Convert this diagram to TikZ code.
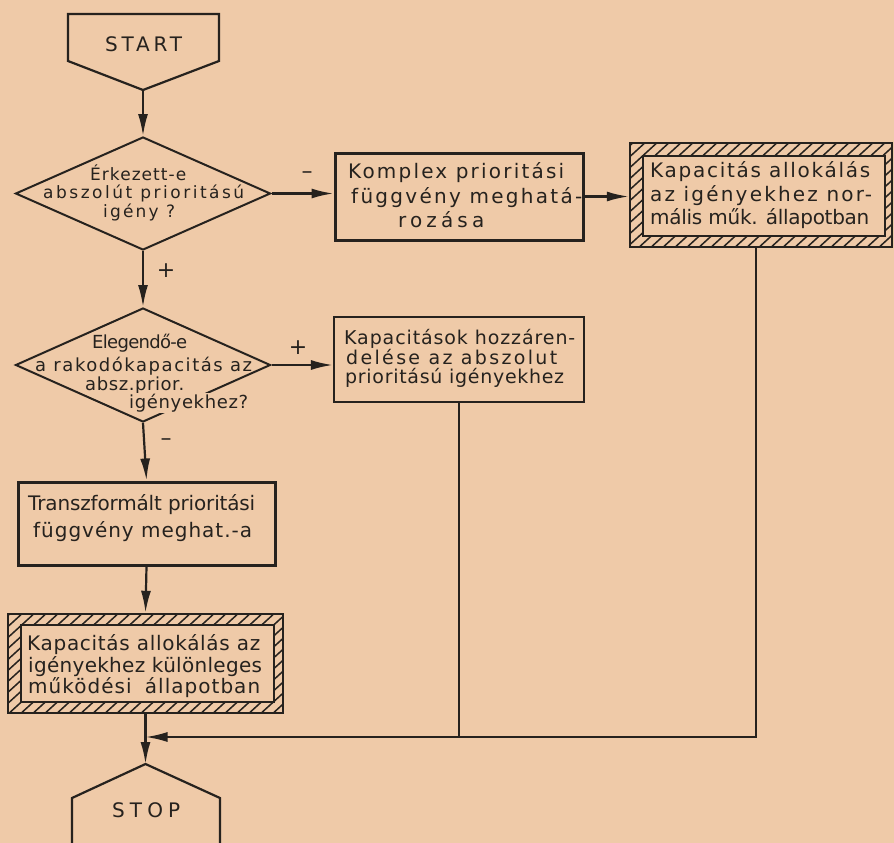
\documentclass[tikz,border=0pt]{standalone}
\usepackage{fontspec}
\setmainfont{DejaVu Sans}
\usetikzlibrary{shapes.geometric,arrows.meta}
\definecolor{paper}{RGB}{239,202,168}
\definecolor{ink}{RGB}{38,34,30}
\newbox\fitA \newbox\fitB
% #1 font size, #2 target width in pt, #3 text
\newcommand\fitline[3]{%
  \setbox\fitA\hbox{\fontsize{#1}{#1}\selectfont #3}%
  \setbox\fitB\hbox{\fontsize{#1}{#1}\selectfont\addfontfeatures{LetterSpace=50}#3}%
  \pgfmathparse{round(((#2-\the\wd\fitA)/(\the\wd\fitB-\the\wd\fitA))*500)/10}%
  \edef\lsval{\pgfmathresult}%
  {\fontsize{#1}{#1}\selectfont\addfontfeatures{LetterSpace=\lsval}#3}}
\tikzset{
  every node/.style={text=ink},
  conn/.style={draw=ink,line width=2.2pt},
  arr/.style={conn,-{Latex[length=22pt,width=10pt]}},
  pbox/.style={draw=ink,rectangle,inner sep=0pt},
  hatchline/.style={draw=ink,line width=1.5pt},
  ln/.style={inner sep=0pt,anchor=base west},
  lbl/.style={font=\fontsize{22}{22}\selectfont},
  dia/.style={diamond,draw=ink,line width=2pt,inner sep=0pt,minimum width=255pt},
}
\begin{document}
\begin{tikzpicture}[x=1pt,y=-1pt]
\fill[paper] (0,0) rectangle (894,843);
\useasboundingbox (0,0) rectangle (894,843);

% START
\draw[conn] (68,14) -- (219,14) -- (219,61) -- (143,90) -- (68,61) -- cycle;
\coordinate (startpt) at (143,90);
\node[ln] (start) at (105,52) {\fitline{20}{77}{START}};

% decision 1
\node[dia,minimum height=113pt] (d1) at (143,193.5) {};
\node[ln] (d1a) at (90,180) {\fitline{17}{96}{Érkezett-e}};
\node[ln] (d1b) at (43,198) {\fitline{17}{201}{abszolút prioritású}};
\node[ln] (d1c) at (103,217) {\fitline{17}{72}{igény ?}};

% box 2
\node[pbox,line width=3pt,minimum width=248pt,minimum height=87pt] (b2) at (459,196.5) {};
\node[ln] (b2a) at (348,178) {\fitline{20}{216}{Komplex prioritási}};
\node[ln] (b2b) at (351,203) {\fitline{20}{231}{függvény meghatá-}};
\node[ln] (b2c) at (398,227) {\fitline{20}{86}{rozása}};

% box 3 (hatched)
\begin{scope}[even odd rule]
\clip (630,143) rectangle (892,247) (643,156) rectangle (885,236);
\foreach \x in {480,492,...,900} \draw[hatchline] (\x,250) -- (\x+120,140);
\end{scope}
\draw[ink,line width=2pt] (643,156) rectangle (885,236);
\node[pbox,line width=2.4pt,minimum width=262pt,minimum height=104pt] (b3) at (761,195) {};
\node[ln] (b3a) at (650,177) {\fitline{20}{220}{Kapacitás allokálás}};
\node[ln] (b3b) at (650,201) {\fitline{20}{222}{az igényekhez nor-}};
\node[ln] (b3c) at (650,224) {\fitline{20}{219}{mális műk. állapotban}};

% decision 2
\node[dia,minimum height=114pt] (d2) at (143,365) {};
\node[ln] (d2a) at (92,348) {\fitline{18}{95}{Elegendő-e}};
\node[ln] (d2b) at (35,371) {\fitline{18}{217}{a rakodókapacitás az}};
\node[ln] (d2c) at (85,390) {\fitline{18}{99}{absz.prior.}};
\node[ln,fill=paper,inner sep=1pt] (d2d) at (128,408) {\fitline{18}{119}{igényekhez?}};

% box 4
\node[pbox,line width=2.2pt,minimum width=250pt,minimum height=85pt] (b4) at (459,359.5) {};
\node[ln] (b4a) at (344,344) {\fitline{19}{231}{Kapacitások hozzáren-}};
\node[ln] (b4b) at (346,364) {\fitline{19}{211}{delése az abszolut}};
\node[ln] (b4c) at (345,383) {\fitline{19}{219}{prioritású igényekhez}};

% box 5
\node[pbox,line width=3pt,minimum width=257pt,minimum height=83pt] (b5) at (146.5,523.5) {};
\node[ln] (b5a) at (28,510) {\fitline{20}{227}{Transzformált prioritási}};
\node[ln] (b5b) at (33,537) {\fitline{20}{219}{függvény meghat.-a}};

% box 6 (hatched)
\begin{scope}[even odd rule]
\clip (8,614) rectangle (283,713) (21,625) rectangle (274,702);
\foreach \x in {-150,-138,...,290} \draw[hatchline] (\x,716) -- (\x+115,611);
\end{scope}
\draw[ink,line width=2pt] (21,625) rectangle (274,702);
\node[pbox,line width=2.4pt,minimum width=275pt,minimum height=99pt] (b6) at (145.5,663.5) {};
\node[ln] (b6a) at (27,650) {\fitline{20}{233}{Kapacitás allokálás az}};
\node[ln] (b6b) at (28,672) {\fitline{20}{234}{igényekhez különleges}};
\node[ln] (b6c) at (28,693) {\fitline{20}{232}{működési\hspace{6pt} állapotban}};

% STOP
\draw[conn] (72,843) -- (72,798) -- (145.5,764) -- (220,798) -- (220,843);
\coordinate (stoptop) at (145.5,764);
\node[ln] (stop) at (112,817) {\fitline{20}{68}{STOP}};

% labels
\node[lbl] (m1) at (307,175) {–};
\node[lbl] (p1) at (166,271) {+};
\node[lbl] (p2) at (298,348) {+};
\node[lbl] (m2) at (166,442) {–};

% connectors
\coordinate (merge) at (145.5,737);
\draw[arr] (startpt) -- (d1.north);
\draw[arr] (d1.east) -- (d1.east -| b2.west);
\draw[arr] (b2.east) -- (b2.east -| b3.west);
\draw[arr] (d1.south) -- (d2.north);
\draw[arr] (d2.east) -- (d2.east -| b4.west);
\draw[arr] (d2.south) -- (b5.north);
\draw[arr] (b5.south) -- (b6.north);
\draw[conn] (b4.south) -- (b4.south |- merge);
\draw[arr] ([xshift=-5pt]b3.south) |- (merge);
\draw[arr] (b6.south) -- (stoptop);
\end{tikzpicture}
\end{document}
